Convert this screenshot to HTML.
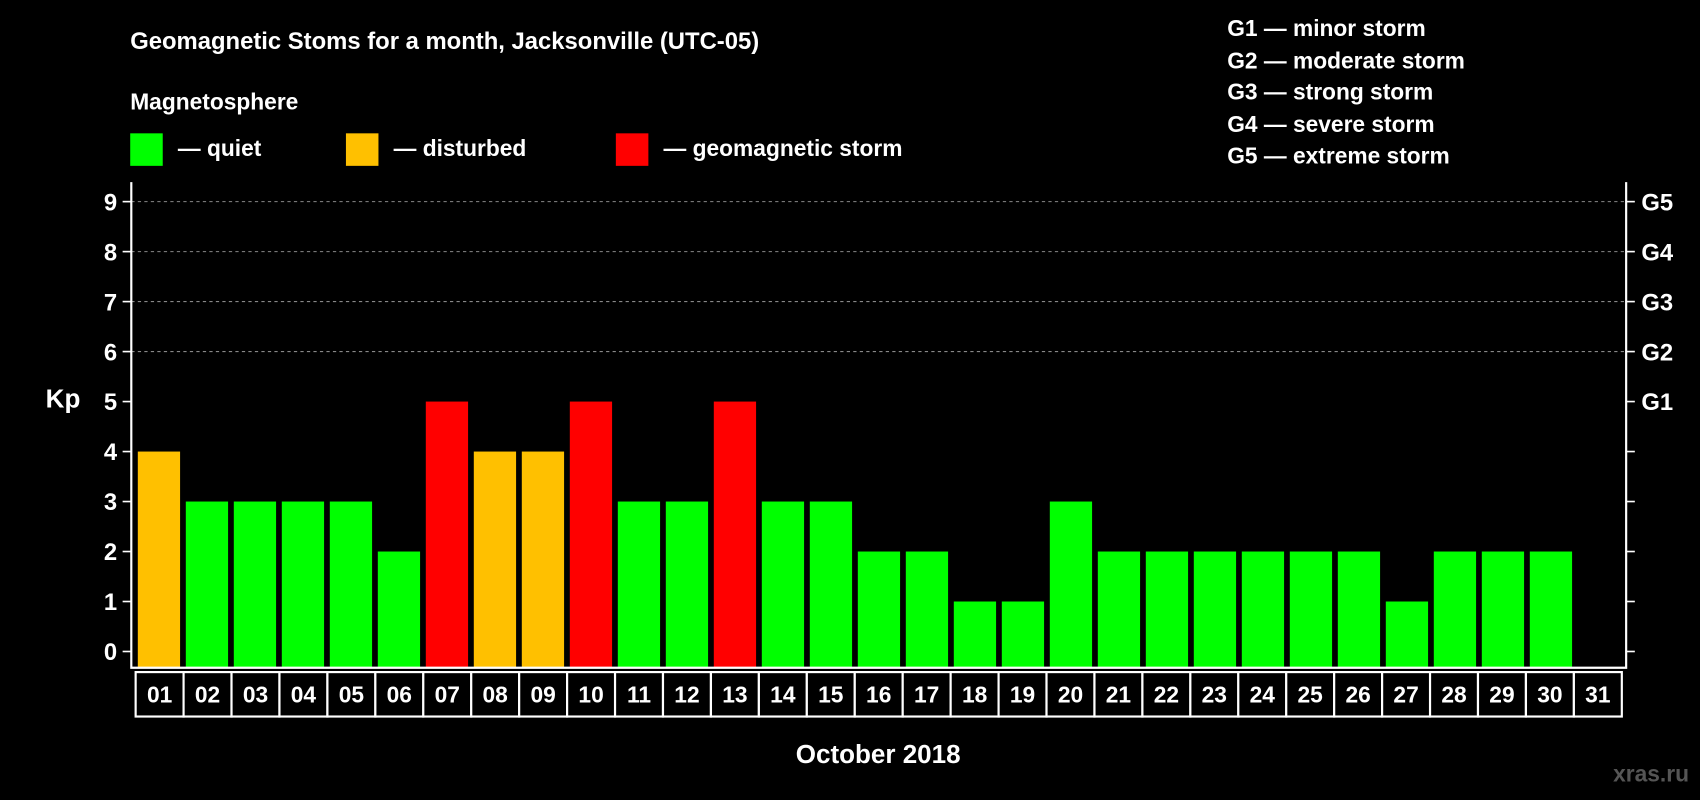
<!DOCTYPE html>
<html><head><meta charset="utf-8"><style>
html,body{margin:0;padding:0;background:#000;}
svg{display:block;font-family:"Liberation Sans",Arial,sans-serif;font-weight:bold;}
</style></head><body>
<svg width="1700" height="800" viewBox="0 0 1568 738">
<rect width="1568" height="738" fill="#000"/>
<text x="120" y="45" fill="#fff" font-size="22">Geomagnetic Stoms for a month, Jacksonville (UTC-05)</text>
<text x="120" y="101" fill="#fff" font-size="21">Magnetosphere</text>
<g><rect x="120" y="123" width="30" height="30" fill="#00ff00"/><text x="164" y="144" fill="#fff" font-size="21">— quiet</text></g>
<g><rect x="319" y="123" width="30" height="30" fill="#ffc000"/><text x="363" y="144" fill="#fff" font-size="21">— disturbed</text></g>
<g><rect x="568" y="123" width="30" height="30" fill="#ff0000"/><text x="612" y="144" fill="#fff" font-size="21">— geomagnetic storm</text></g>
<g fill="#fff" font-size="21">
<text x="1132" y="33">G1 — minor storm</text>
<text x="1132" y="63">G2 — moderate storm</text>
<text x="1132" y="92">G3 — strong storm</text>
<text x="1132" y="122">G4 — severe storm</text>
<text x="1132" y="151">G5 — extreme storm</text>
</g>
<text x="58" y="376" fill="#fff" font-size="24" text-anchor="middle">Kp</text>
<text x="810" y="704" fill="#fff" font-size="24" text-anchor="middle">October 2018</text>
<text x="1558" y="721" fill="#555" font-size="21" text-anchor="end">xras.ru</text>
<g id="plot"></g>
</svg>
<script>
const days=["01","02","03","04","05","06","07","08","09","10","11","12","13","14","15","16","17","18","19","20","21","22","23","24","25","26","27","28","29","30","31"];
const kp=[4,3,3,3,3,2,5,4,4,5,3,3,5,3,3,2,2,1,1,3,2,2,2,2,2,2,1,2,2,2,null];
const yTicks=[0,1,2,3,4,5,6,7,8,9];
const gLabels=["G1","G2","G3","G4","G5"];
const NS="http://www.w3.org/2000/svg";
const plot=document.getElementById('plot');
const L=121,R=1500,T=168,B=616;
const y=v=>601-v*(601-186)/9;
const pitch=(1496-125)/31;
const x=i=>127+i*44.28;
function mk(t,a){const e=document.createElementNS(NS,t);for(const k in a)e.setAttribute(k,a[k]);plot.appendChild(e);return e;}
yTicks.forEach(v=>{
  if(v>0&&v>=6||v===9){}
  let g;
  if(v>=6){g=mk('line',{x1:L,x2:R,y1:y(v),y2:y(v),stroke:'#888','stroke-dasharray':'3,3','stroke-width':1});
  
  }
  let t1=mk('line',{x1:L-8,x2:L,y1:y(v),y2:y(v),stroke:'#fff','stroke-width':1.5});
  
  
  let t2=mk('line',{x1:R,x2:R+8,y1:y(v),y2:y(v),stroke:'#fff','stroke-width':1.5});
  
  
  let tx=mk('text',{x:L-13,y:y(v)+8,fill:'#fff','font-size':22,'text-anchor':'end'});
  tx.textContent=v;
  
  
});
gLabels.forEach((g,i)=>{
  let t=mk('text',{x:R+14,y:y(5+i)+8,fill:'#fff','font-size':22});
  t.textContent=g;
  
  
});
kp.forEach((v,i)=>{
  if(v==null)return;
  const c=v>=5?'#ff0000':v===4?'#ffc000':'#00ff00';
  let b=mk('rect',{x:x(i),y:y(v),width:39,height:B-y(v),fill:c});
  
  
});
let f=mk('polyline',{points:`${L},${T} ${L},${B} ${R},${B} ${R},${T}`,fill:'none',stroke:'#fff','stroke-width':2});


days.forEach((d,i)=>{
  let r=mk('rect',{x:125+i*pitch,y:620,width:pitch,height:41,fill:'#000',stroke:'#fff','stroke-width':2});
  
  
  let t=mk('text',{x:125+i*pitch+pitch/2,y:648,fill:'#fff','font-size':21,'text-anchor':'middle'});
  t.textContent=d;
  
  
});
</script>
</body></html>
